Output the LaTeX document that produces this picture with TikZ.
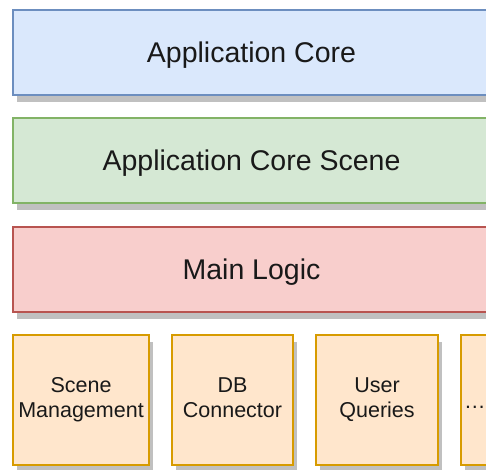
\documentclass[tikz,border=0pt]{standalone}
\usepackage{fontspec}
\setmainfont{Liberation Sans}
\usetikzlibrary{shadows}
\definecolor{blueFill}{HTML}{DAE8FC}
\definecolor{blueLine}{HTML}{6C8EBF}
\definecolor{greenFill}{HTML}{D5E8D4}
\definecolor{greenLine}{HTML}{82B366}
\definecolor{redFill}{HTML}{F8CECC}
\definecolor{redLine}{HTML}{B85450}
\definecolor{orangeFill}{HTML}{FFE6CC}
\definecolor{orangeLine}{HTML}{D79B00}
\definecolor{shadowGray}{HTML}{C0C0C0}
% two centred lines with equal line boxes
\newcommand{\twolines}[2]{\raisebox{-1.5pt}{\begin{tabular}{@{}c@{}}#1\\#2\end{tabular}}}
\tikzset{
  boxshadow/.style={drop shadow={shadow xshift=4pt, shadow yshift=-7pt,
    fill=shadowGray, opacity=1}},
  layerbox/.style={rectangle, line width=2pt, boxshadow,
    minimum width=477pt, minimum height=85pt, inner sep=0pt,
    text height=20.4pt, text depth=0pt,
    font=\fontsize{28.5}{33}\selectfont, text=black!90},
  modulebox/.style={rectangle, line width=2pt, boxshadow,
    fill=orangeFill, draw=orangeLine,
    minimum height=130pt, inner sep=0pt,
    font=\fontsize{21.5}{25}\selectfont, text=black!90},
}
\begin{document}
\begin{tikzpicture}[x=1pt, y=-1pt]
  \useasboundingbox (0,0) rectangle (486,469);
  \clip (0,0) rectangle (486,469);

  % stacked layers
  \node[layerbox, fill=blueFill, draw=blueLine] (core) at (251.5,52.5) {Application Core};
  \node[layerbox, fill=greenFill, draw=greenLine] (scene) at (251.5,160.5) {Application Core Scene};
  \node[layerbox, fill=redFill, draw=redLine] (logic) at (251.5,269.5) {Main Logic};

  % modules
  \node[modulebox, minimum width=136pt] (mgmt) at (81,400) {\twolines{Scene}{Management}};
  \node[modulebox, minimum width=121pt] (db) at (232.5,400) {\twolines{DB}{Connector}};
  \node[modulebox, minimum width=122pt] (queries) at (377,400) {\twolines{User}{Queries}};
  \node[modulebox, minimum width=122pt] (more) at (522,400) {};
  \node[anchor=base west, inner sep=0pt, font=\fontsize{21.5}{25}\selectfont, text=black!90]
    (dots) at ([xshift=4pt, yshift=-8pt]more.west) {\ldots};
\end{tikzpicture}
\end{document}
